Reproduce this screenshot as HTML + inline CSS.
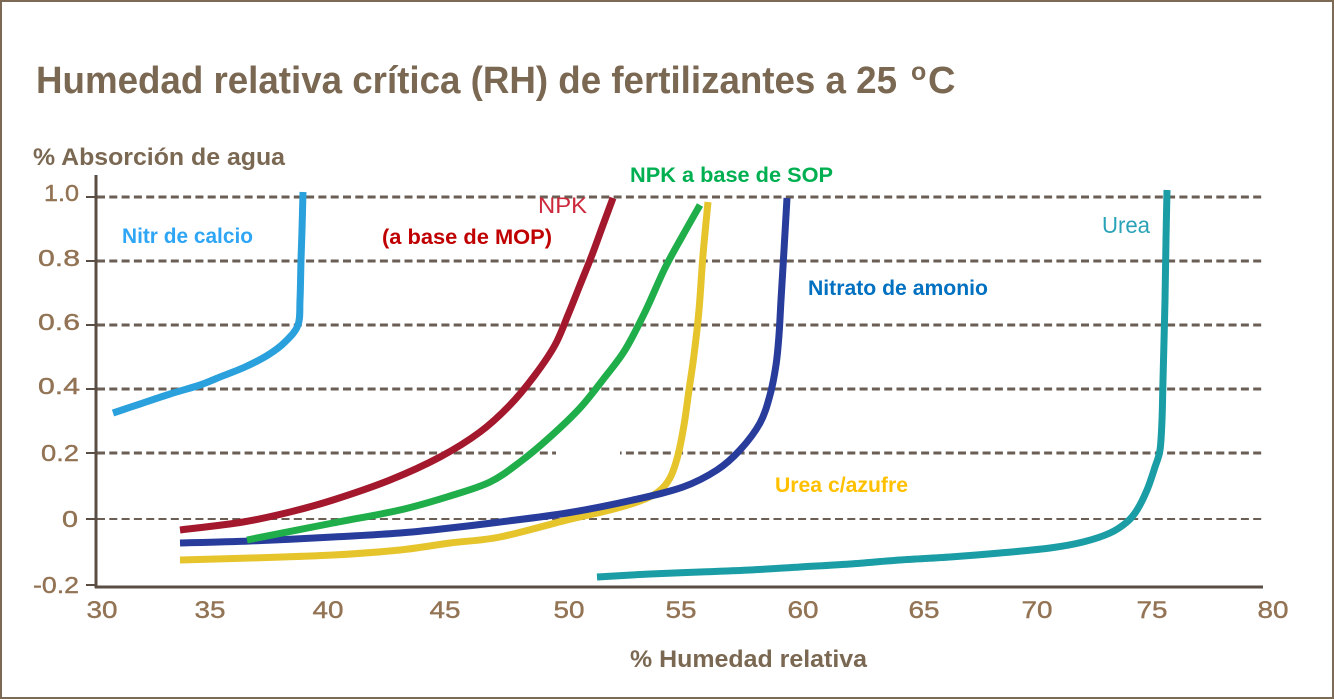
<!DOCTYPE html>
<html>
<head>
<meta charset="utf-8">
<style>
html,body{margin:0;padding:0;background:#fff;}
svg{display:block;}
text{font-family:"Liberation Sans",Arial,sans-serif;}
</style>
</head>
<body>
<svg id="chart" width="1334" height="699" viewBox="0 0 1334 699" xmlns="http://www.w3.org/2000/svg">
  <rect x="1" y="1" width="1332" height="697" fill="#ffffff" stroke="#7d6a55" stroke-width="2"/>

  <!-- Title -->
  <text x="36" y="93" font-size="38" font-weight="bold" fill="#7a6853" textLength="861" lengthAdjust="spacingAndGlyphs">Humedad relativa crítica (RH) de fertilizantes a 25</text>
  <text x="911" y="80" font-size="25" font-weight="bold" fill="#7a6853">o</text>
  <text x="928" y="93" font-size="38" font-weight="bold" fill="#7a6853">C</text>

  <!-- Y axis title -->
  <text x="33" y="165" font-size="24" font-weight="bold" fill="#7a6853" textLength="252" lengthAdjust="spacingAndGlyphs">% Absorción de agua</text>

  <!-- Gridlines -->
  <g stroke="#6a5e55" stroke-width="3" stroke-dasharray="8 4.3" fill="none">
    <line x1="97" y1="197" x2="1263" y2="197"/>
    <line x1="97" y1="261" x2="1263" y2="261"/>
    <line x1="97" y1="325" x2="1263" y2="325"/>
    <line x1="97" y1="389" x2="1263" y2="389"/>
    <line x1="97" y1="453" x2="1263" y2="453"/>
  </g>
  <line x1="97" y1="519" x2="1263" y2="519" stroke="#6a5e55" stroke-width="2" stroke-dasharray="8 4.3"/>
  <rect x="556" y="448" width="64" height="12" fill="#fff"/>

  <!-- Axes -->
  <line x1="96" y1="175" x2="96" y2="588" stroke="#5a4d44" stroke-width="3"/>
  <line x1="95" y1="587" x2="1263" y2="587" stroke="#5a4d44" stroke-width="3"/>
  <g stroke="#5a4d44" stroke-width="2">
    <line x1="86" y1="197" x2="96" y2="197"/>
    <line x1="86" y1="261" x2="96" y2="261"/>
    <line x1="86" y1="325" x2="96" y2="325"/>
    <line x1="86" y1="389" x2="96" y2="389"/>
    <line x1="86" y1="453" x2="96" y2="453"/>
    <line x1="86" y1="519" x2="96" y2="519"/>
    <line x1="86" y1="585" x2="96" y2="585"/>
  </g>

  <!-- Y tick labels -->
  <g font-size="23" fill="#927354" stroke="#927354" stroke-width="0.4" text-anchor="end">
    <text x="79" y="201" textLength="35" lengthAdjust="spacingAndGlyphs">1.0</text>
    <text x="80" y="266" textLength="42" lengthAdjust="spacingAndGlyphs">0.8</text>
    <text x="80" y="330" textLength="42" lengthAdjust="spacingAndGlyphs">0.6</text>
    <text x="80" y="394" textLength="42" lengthAdjust="spacingAndGlyphs">0.4</text>
    <text x="79" y="461" textLength="38" lengthAdjust="spacingAndGlyphs">0.2</text>
    <text x="78" y="527" textLength="16" lengthAdjust="spacingAndGlyphs">0</text>
    <text x="79" y="593" textLength="46" lengthAdjust="spacingAndGlyphs">-0.2</text>
  </g>

  <!-- X tick labels -->
  <g font-size="24" fill="#927354" stroke="#927354" stroke-width="0.4" text-anchor="middle">
    <text x="102" y="618" textLength="31" lengthAdjust="spacingAndGlyphs">30</text>
    <text x="210" y="618" textLength="31" lengthAdjust="spacingAndGlyphs">35</text>
    <text x="328" y="618" textLength="31" lengthAdjust="spacingAndGlyphs">40</text>
    <text x="445" y="618" textLength="31" lengthAdjust="spacingAndGlyphs">45</text>
    <text x="569" y="618" textLength="31" lengthAdjust="spacingAndGlyphs">50</text>
    <text x="681" y="618" textLength="31" lengthAdjust="spacingAndGlyphs">55</text>
    <text x="803" y="618" textLength="31" lengthAdjust="spacingAndGlyphs">60</text>
    <text x="924" y="618" textLength="31" lengthAdjust="spacingAndGlyphs">65</text>
    <text x="1037" y="618" textLength="31" lengthAdjust="spacingAndGlyphs">70</text>
    <text x="1152" y="618" textLength="31" lengthAdjust="spacingAndGlyphs">75</text>
    <text x="1273" y="618" textLength="31" lengthAdjust="spacingAndGlyphs">80</text>
  </g>

  <!-- X axis title -->
  <text x="630" y="667" font-size="24" font-weight="bold" fill="#7a6853" textLength="237" lengthAdjust="spacingAndGlyphs">% Humedad relativa</text>

  <!-- Curves -->
  <g id="curves" fill="none" stroke-width="7" stroke-linecap="butt" stroke-linejoin="round">
    <polyline class="s" stroke="#1a9da5" points="597,577 650,574 700,572 750,570 800,567 850,564 900,560 950,557 1000,553 1050,548 1083,542 1110,533 1127,522 1137,510 1147,490 1155,467 1160,450 1162,420 1163,380 1165,300 1166,240 1167,190"/>
    <polyline class="s" stroke="#2aa0dc" points="113,413 140,404 170,394 200,385 220,377 245,367 268,355 285,342 298,325 300,300 301,260 302,230 303,192"/>
    <polyline class="s" stroke="#e6c42c" points="180,560 250,558 333,555 400,550 450,543 500,537 567,520 610,510 640,501 658,492 670,478 678,455 684,425 689,390 694,355 699,310 703,255 708,202"/>
    <polyline class="s" stroke="#283c9c" points="180,543 250,541 333,537 400,533 450,528 500,522 567,513 633,500 683,487 717,470 740,450 760,423 770,395 776,365 779,335 781,300 784,250 787,198"/>
    <polyline class="s" stroke="#1fae4a" points="247,540 333,523 400,510 450,496 490,482 520,462 550,437 580,408 605,377 625,350 645,312 665,268 683,235 700,205"/>
    <polyline class="s" stroke="#a3182c" points="180,530 243,522 290,512 333,500 390,480 440,457 480,432 510,405 535,375 555,345 568,315 580,285 592,255 603,225 613,198"/>
  </g>

  <!-- Series labels -->
  <text x="122" y="243" font-size="21" font-weight="bold" fill="#2ea6f5" textLength="131" lengthAdjust="spacingAndGlyphs">Nitr de calcio</text>
  <text x="382" y="244" font-size="21" font-weight="bold" fill="#c00000" textLength="170" lengthAdjust="spacingAndGlyphs">(a base de MOP)</text>
  <text x="538" y="213" font-size="22" fill="#cc2a3c" textLength="49" lengthAdjust="spacingAndGlyphs">NPK</text>
  <text x="630" y="182" font-size="21" font-weight="bold" fill="#00b050" textLength="203" lengthAdjust="spacingAndGlyphs">NPK a base de SOP</text>
  <text x="808" y="295" font-size="21" font-weight="bold" fill="#0070c0" textLength="180" lengthAdjust="spacingAndGlyphs">Nitrato de amonio</text>
  <text x="1102" y="233" font-size="23" fill="#2aa3b8" textLength="48" lengthAdjust="spacingAndGlyphs">Urea</text>
  <text x="775" y="492" font-size="21" font-weight="bold" fill="#ffc000" textLength="133" lengthAdjust="spacingAndGlyphs">Urea c/azufre</text>
</svg>
<script>
(function(){
  var NS="http://www.w3.org/2000/svg";
  var pls=document.querySelectorAll("polyline.s");
  for(var k=0;k<pls.length;k++){
    var pl=pls[k];
    var pts=pl.getAttribute("points").trim().split(/\s+/).map(function(p){return p.split(",").map(Number);});
    var d="M"+pts[0][0]+","+pts[0][1];
    for(var i=0;i<pts.length-1;i++){
      var p0=pts[i-1]||pts[i],p1=pts[i],p2=pts[i+1],p3=pts[i+2]||pts[i+1];
      var c1x=p1[0]+(p2[0]-p0[0])/6,c1y=p1[1]+(p2[1]-p0[1])/6;
      var c2x=p2[0]-(p3[0]-p1[0])/6,c2y=p2[1]-(p3[1]-p1[1])/6;
      d+=" C"+c1x.toFixed(2)+","+c1y.toFixed(2)+" "+c2x.toFixed(2)+","+c2y.toFixed(2)+" "+p2[0]+","+p2[1];
    }
    var path=document.createElementNS(NS,"path");
    path.setAttribute("d",d);
    path.setAttribute("stroke",pl.getAttribute("stroke"));
    pl.parentNode.replaceChild(path,pl);
  }
})();
</script>
</body>
</html>
